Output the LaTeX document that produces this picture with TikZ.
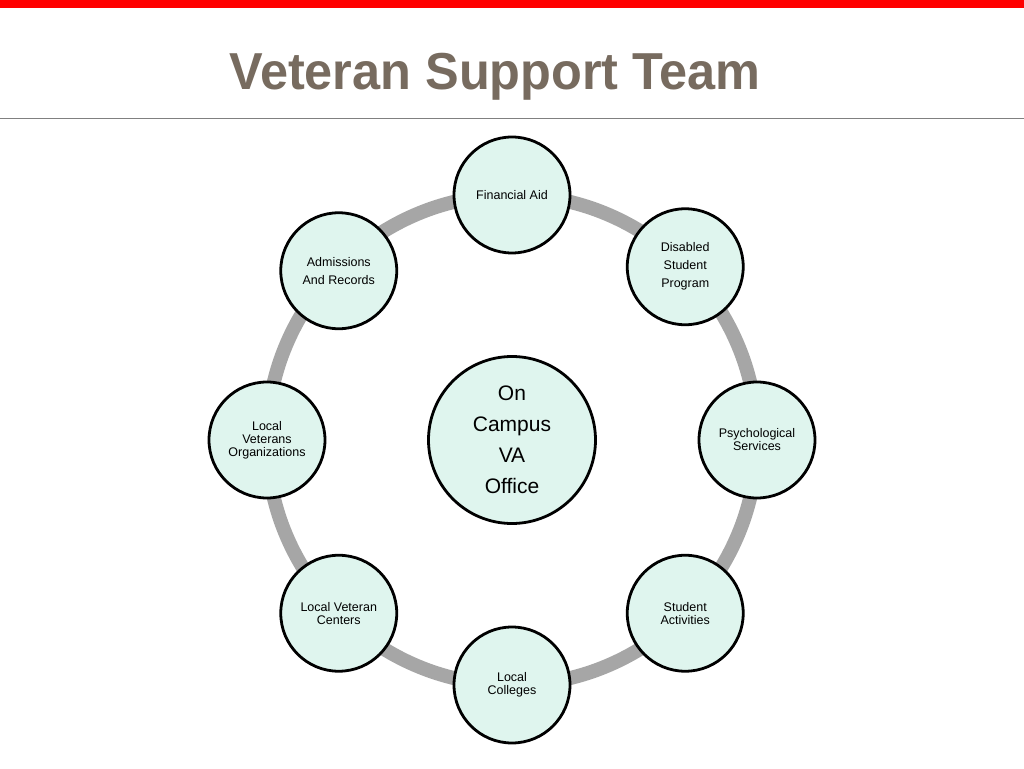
\documentclass[tikz,border=0pt]{standalone}
\usepackage{fontspec}
\setmainfont{Liberation Sans}
\usetikzlibrary{positioning}
\definecolor{mint}{HTML}{DFF5EE}
\definecolor{ringgray}{HTML}{A6A6A6}
\definecolor{titlebrown}{HTML}{776B5F}

\begin{document}
\begin{tikzpicture}[
    x=1pt,
    y=1pt,
    team/.style={
		circle,
		draw=black,
		line width=2.8pt,
		fill=mint,
		text centered,
		align=center,
		inner sep=0pt,
		minimum size=116pt,
		font=\fontsize{12.5}{13}\selectfont
	},
	office/.style={
		team,
		minimum size=167pt,
		font=\fontsize{21}{31}\selectfont
	},
	wide/.style={
		font=\fontsize{12.5}{18}\selectfont
	}
  ]

% // frame of the slide
\useasboundingbox (-512,-328) rectangle (512,440);
\fill [red] (-512,432) rectangle (512,440);
\draw [gray, line width=1pt] (-512,321) -- (512,321);
\node [anchor=base, text=titlebrown, font=\fontsize{52}{60}\selectfont\bfseries, xscale=0.97] (title) at (-17,350) {Veteran Support Team};

% // the ring
\draw [ringgray, line width=14pt] (0,0) circle (245pt);

\node [office] (vaoffice) at (0,0) {On\\Campus\\VA\\Office};

\node [team] (finaid) at (90:245pt) {Financial Aid};
\node [team, wide] (disabled) at (45:245pt) {Disabled\\Student\\Program};
\node [team] (psych) at (0:245pt) {Psychological\\Services};
\node [team] (activities) at (-45:245pt) {Student\\Activities};
\node [team] (colleges) at (-90:245pt) {Local\\Colleges};
\node [team] (centers) at (-135:245pt) {Local Veteran\\Centers};
\node [team] (orgs) at (180:245pt) {Local\\Veterans\\Organizations};
\node [team, wide, yshift=-4pt] (admissions) at (135:245pt) {Admissions\\And Records};

\end{tikzpicture}
\end{document}
